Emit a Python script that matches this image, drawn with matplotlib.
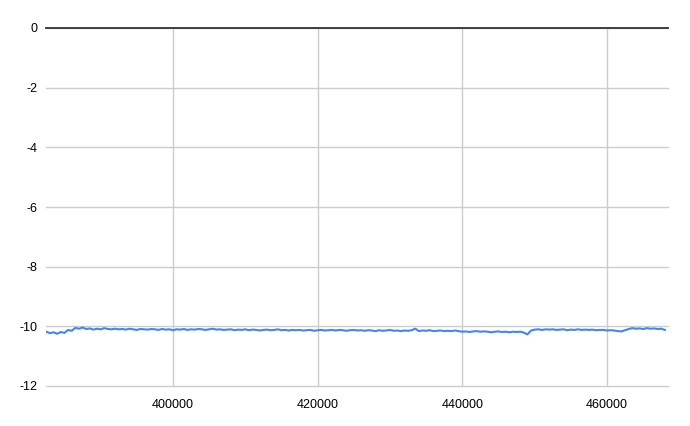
import numpy as np
import matplotlib
matplotlib.use("Agg")
import matplotlib.pyplot as plt

plt.rcParams["font.family"] = ["Liberation Sans", "DejaVu Sans"]

# sample positions (every 500) and values
x_start, x_step = 382500, 500
values = [
    -10.18, -10.23, -10.20, -10.25, -10.19, -10.22, -10.12, -10.15, -10.05, -10.08,
    -10.04, -10.09, -10.07, -10.11, -10.08, -10.10, -10.06, -10.09, -10.10, -10.08,
    -10.10, -10.09, -10.11, -10.08, -10.10, -10.12, -10.09, -10.10, -10.11, -10.09,
    -10.10, -10.12, -10.09, -10.11, -10.10, -10.13, -10.10, -10.11, -10.09, -10.12,
    -10.10, -10.11, -10.09, -10.10, -10.12, -10.10, -10.08, -10.11, -10.10, -10.12,
    -10.11, -10.10, -10.13, -10.11, -10.12, -10.10, -10.13, -10.11, -10.12, -10.14,
    -10.12, -10.11, -10.13, -10.12, -10.10, -10.13, -10.12, -10.14, -10.12, -10.13,
    -10.12, -10.14, -10.13, -10.12, -10.15, -10.13, -10.12, -10.14, -10.13, -10.12,
    -10.14, -10.12, -10.13, -10.15, -10.13, -10.12, -10.14, -10.13, -10.15, -10.13,
    -10.14, -10.16, -10.13, -10.15, -10.14, -10.12, -10.15, -10.14, -10.16, -10.14,
    -10.15, -10.13, -10.08, -10.16, -10.14, -10.15, -10.13, -10.16, -10.15, -10.14,
    -10.16, -10.15, -10.16, -10.14, -10.16, -10.18, -10.17, -10.19, -10.17, -10.16,
    -10.18, -10.17, -10.18, -10.20, -10.18, -10.17, -10.19, -10.18, -10.20, -10.18,
    -10.19, -10.18, -10.21, -10.27, -10.14, -10.11, -10.10, -10.12, -10.10, -10.11,
    -10.10, -10.12, -10.11, -10.10, -10.13, -10.11, -10.12, -10.10, -10.12, -10.11,
    -10.12, -10.11, -10.13, -10.12, -10.12, -10.14, -10.13, -10.14, -10.16, -10.17,
    -10.13, -10.09, -10.06, -10.08, -10.07, -10.09, -10.06, -10.08, -10.07, -10.09,
    -10.08, -10.12,
]
xs = x_start + x_step * np.arange(len(values))

y_ticks = [0, -2, -4, -6, -8, -10, -12]
x_ticks = [400000, 420000, 440000, 460000]

fig = plt.figure(figsize=(6.9, 4.26), dpi=100)
ax = fig.add_axes([46 / 690, 1 - 386 / 426, 622 / 690, 358 / 426])

ax.plot(xs, values, color="#4285F4", lw=1.5, zorder=3)

ax.set_xlim(382450, 468430)
ax.set_ylim(-12, 0)
ax.set_yticks(y_ticks)
ax.set_yticklabels([str(v) for v in y_ticks])
ax.set_xticks(x_ticks)
ax.set_xticklabels([str(v) for v in x_ticks])

ax.grid(True, color="#cccccc", lw=1)
for gl in ax.get_ygridlines():
    gl.set_clip_on(False)
ax.set_axisbelow(True)
ax.axhline(0, color="#333333", lw=1.3, zorder=2, clip_on=False)
for s in ax.spines.values():
    s.set_visible(False)
ax.tick_params(length=0, labelsize=9, colors="#000000", pad=6)
ax.tick_params(axis="x", pad=9)

fig.savefig("out.png", dpi=100, facecolor="white")
